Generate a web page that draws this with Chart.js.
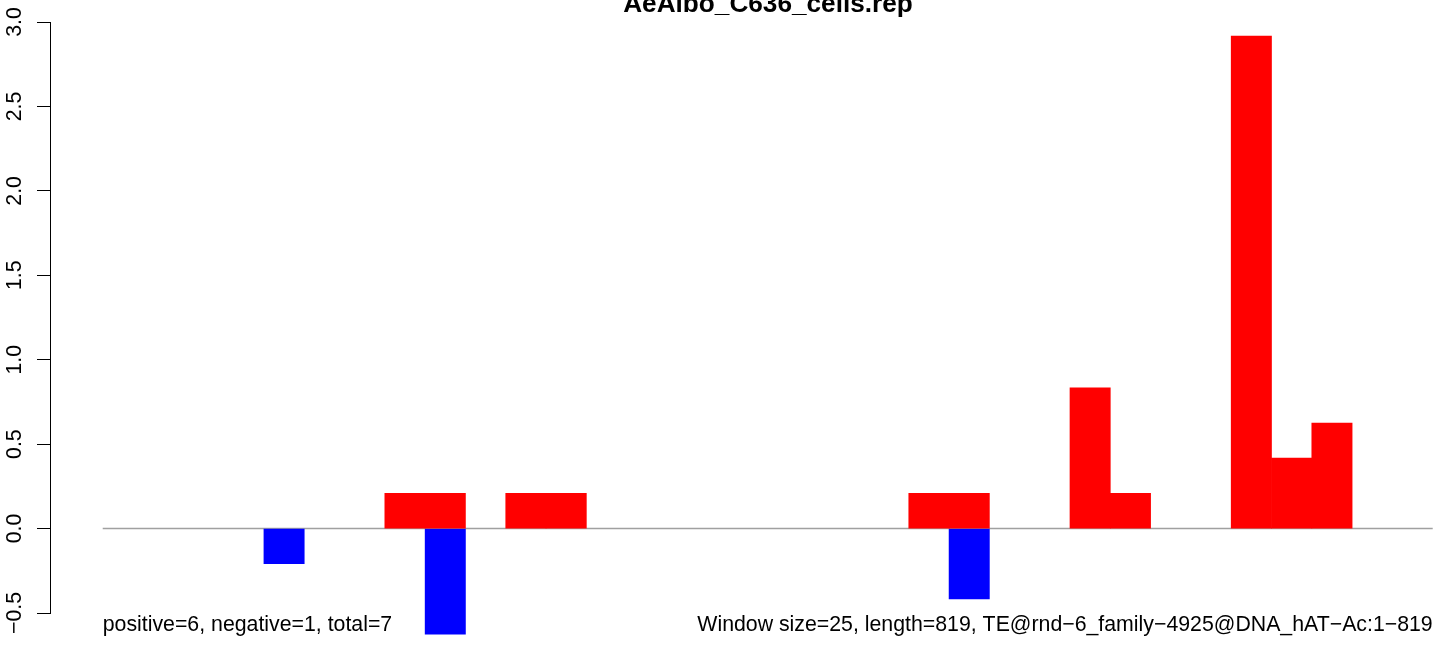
<!DOCTYPE html>
<html>
<head>
<meta charset="utf-8">
<script src="https://cdn.jsdelivr.net/npm/chart.js@4"></script>
<style>
html,body{margin:0;padding:0;background:#fff;}
canvas{display:block;}
</style>
</head>
<body>
<canvas id="c" width="1444" height="646"></canvas>
<script>
// ---- data ----
const chartTitle = "AeAlbo_C636_cells.rep";
const leftNote = "positive=6, negative=1, total=7";
const rightNote = "Window size=25, length=819, TE@rnd\u22126_family\u22124925@DNA_hAT\u2212Ac:1\u2212819";
const nBins = 33;
const binIndex = [0,1,2,3,4,5,6,7,8,9,10,11,12,13,14,15,16,17,18,19,20,21,22,23,24,25,26,27,28,29,30,31,32];
const positiveValues = [null,null,null,null,null,null,null,0.208,0.208,null,0.208,0.208,null,null,null,null,null,null,null,null,0.208,0.208,null,null,0.833,0.208,null,null,2.917,0.417,0.625,null,null];
const negativeValues = [null,null,null,null,-0.208,null,null,null,-0.625,null,null,null,null,null,null,null,null,null,null,null,null,-0.417,null,null,null,null,null,null,null,null,null,null,null];
const yTicks = [-0.5,0,0.5,1,1.5,2,2.5,3];
const baselineX = [0, 33];
const baselineY = [0, 0];

const FONT = '"Liberation Sans", Arial, Helvetica, sans-serif';

const notesPlugin = {
  id: 'notes',
  afterDraw(chart) {
    const ctx = chart.ctx;
    const xs = chart.scales.x;
    ctx.save();
    ctx.fillStyle = '#000';
    ctx.textBaseline = 'alphabetic';
    ctx.font = 'bold 26.2px ' + FONT;
    ctx.textAlign = 'center';
    ctx.fillText(chartTitle, 768, 12);
    ctx.font = '21.3px ' + FONT;
    ctx.textAlign = 'left';
    ctx.fillText(leftNote, xs.getPixelForValue(0), 631);
    ctx.textAlign = 'right';
    ctx.fillText(rightNote, xs.getPixelForValue(nBins), 631);
    ctx.restore();
  }
};

new Chart(document.getElementById('c'), {
  data: {
    datasets: [
      {
        type: 'line',
        data: baselineX.map((x, i) => ({x: x, y: baselineY[i]})),
        borderColor: '#a0a0a0',
        borderWidth: 1.5,
        pointRadius: 0,
        clip: false,
        order: 3
      },
      {
        type: 'bar',
        data: binIndex.map((b, i) => ({x: b + 0.5, y: positiveValues[i]})),
        backgroundColor: '#ff0000',
        borderWidth: 0,
        barPercentage: 1,
        categoryPercentage: 1,
        grouped: false,
        clip: false,
        order: 1
      },
      {
        type: 'bar',
        data: binIndex.map((b, i) => ({x: b + 0.5, y: negativeValues[i]})),
        backgroundColor: '#0000ff',
        borderWidth: 0,
        barPercentage: 1,
        categoryPercentage: 1,
        grouped: false,
        clip: false,
        order: 2
      }
    ]
  },
  options: {
    responsive: false,
    devicePixelRatio: 1,
    animation: false,
    events: [],
    layout: { padding: { left: 0, right: 0, top: 22, bottom: 33 } },
    plugins: { legend: { display: false }, tooltip: { enabled: false }, title: { display: false } },
    scales: {
      x: {
        type: 'linear',
        display: false,
        min: -1.308,
        max: 33.28,
        afterBuildTicks: s => { s.ticks = []; }
      },
      y: {
        type: 'linear',
        min: -0.5,
        max: 3,
        afterBuildTicks: s => { s.ticks = yTicks.map(v => ({value: v})); },
        afterFit: s => { s.width = 50; },
        grid: { drawOnChartArea: false, tickLength: 13, color: '#000', lineWidth: 1 },
        border: { display: true, color: '#000', width: 1 },
        ticks: {
          minRotation: 90,
          maxRotation: 90,
          crossAlign: 'center',
          padding: 1,
          color: '#000',
          font: { family: FONT, size: 21.3 },
          callback: v => (v < 0 ? '\u2212' : '') + Math.abs(v).toFixed(1)
        }
      }
    }
  },
  plugins: [notesPlugin]
});
</script>
</body>
</html>
